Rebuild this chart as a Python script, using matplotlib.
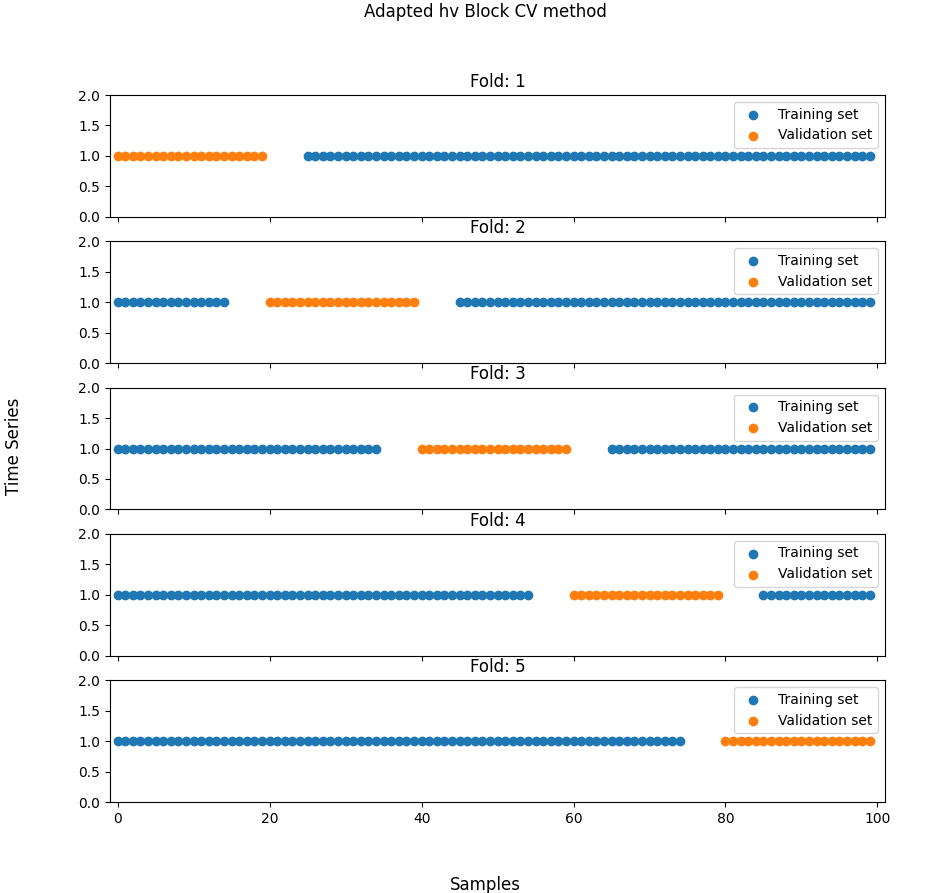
import matplotlib
matplotlib.use('Agg')
import matplotlib.pyplot as plt

n_samples = 100
fold_names = ['Fold: 1', 'Fold: 2', 'Fold: 3', 'Fold: 4', 'Fold: 5']
val_start = [0, 20, 40, 60, 80]
val_end = [19, 39, 59, 79, 99]
gap = 5
y_level = 1.0

fig, axes = plt.subplots(5, 1, sharex=True, figsize=(9.33, 8.93), dpi=100)
fig.subplots_adjust(left=0.118, right=0.9486, top=0.8936, bottom=0.1019, hspace=0.2)

for ax, name, vs, ve in zip(axes, fold_names, val_start, val_end):
    samples = list(range(n_samples))
    val_idx = [i for i in samples if vs <= i <= ve]
    train_idx = [i for i in samples if i < vs - gap or i > ve + gap]
    ax.scatter(train_idx, [y_level] * len(train_idx), label='Training set')
    ax.scatter(val_idx, [y_level] * len(val_idx), label='Validation set')
    ax.set_title(name)
    ax.set_ylim(0, 2)
    ax.set_xlim(-1, 101)
    ax.legend(loc='upper right')

fig.suptitle('Adapted hv Block CV method', x=0.52, y=0.997)
fig.supxlabel('Samples', x=0.52, y=-0.0015)
fig.supylabel('Time Series', x=0.005)
fig.savefig('out.png')
